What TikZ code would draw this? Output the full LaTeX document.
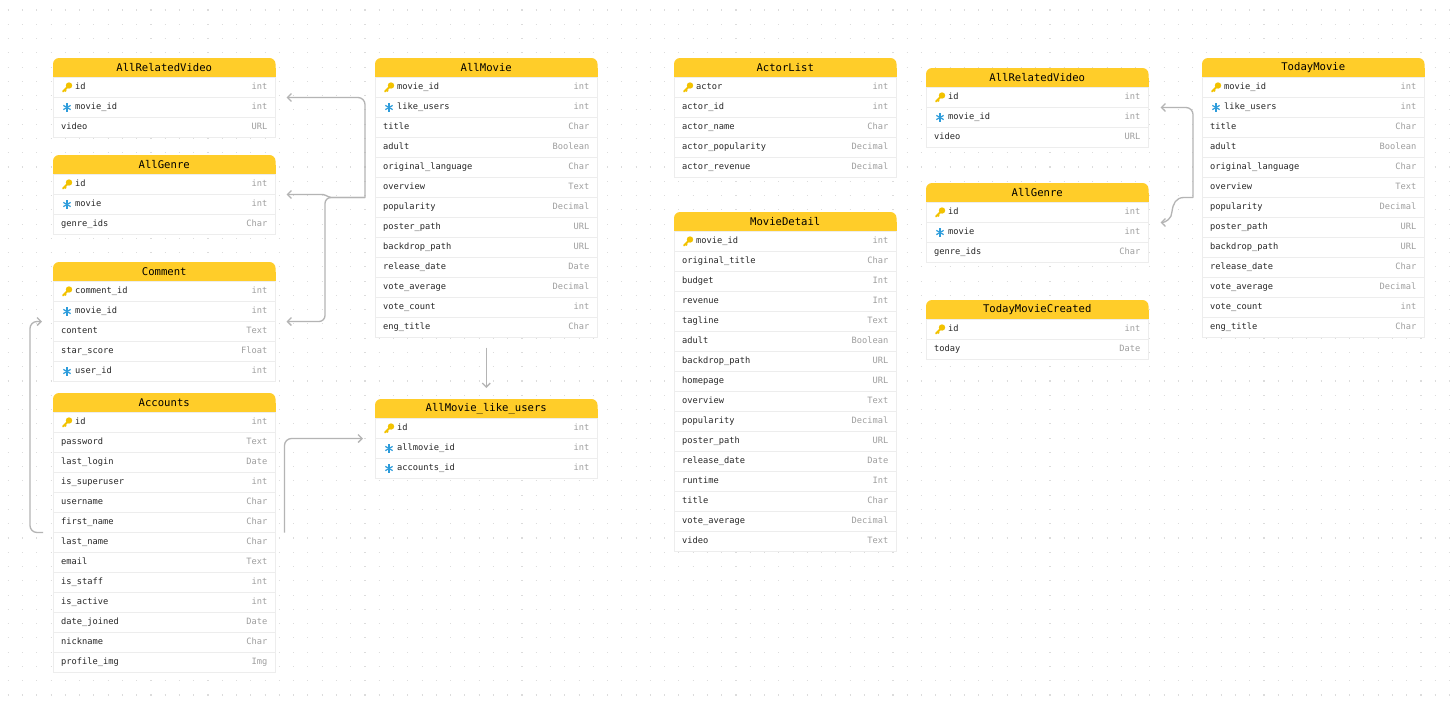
\documentclass[tikz,border=0pt]{standalone}
\usepackage{fontspec}
\usetikzlibrary{positioning, arrows.meta}

\newfontfamily\ermono{DejaVu Sans Mono}

% Colours of the diagram
\definecolor{headyellow}{HTML}{FFCD29}
\definecolor{rowline}{HTML}{EDEDED}
\definecolor{fieldgray}{HTML}{262626}
\definecolor{typegray}{HTML}{9E9E9E}
\definecolor{conngray}{HTML}{B4B4B4}
\definecolor{dotgray}{HTML}{DCDCDC}
\definecolor{keygold}{HTML}{F2C200}
\definecolor{fkblue}{HTML}{2D9CDB}

\tikzset{
  tablehead/.style={fill=headyellow, rounded corners=6pt, minimum width=222.5pt,
    minimum height=19.5pt, inner sep=0pt, outer sep=0pt, anchor=north west,
    font=\ermono\fontsize{10.6}{12}\selectfont, text=black},
  rowbox/.style={draw=rowline, line width=1pt, fill=white, minimum width=222.5pt,
    minimum height=20pt, inner sep=0pt, outer sep=0pt},
  fieldtext/.style={font=\ermono\fontsize{8.7}{10}\selectfont, text=fieldgray,
    inner sep=0pt, text height=6.2pt, text depth=2pt},
  typetext/.style={font=\ermono\fontsize{8.7}{10}\selectfont, text=typegray,
    inner sep=0pt, text height=6.2pt, text depth=2pt},
  conn/.style={draw=conngray, line width=1.3pt, -{Straight Barb[length=4pt,width=8pt]}},
  keyicon/.pic={
    \fill[keygold] (2pt,2pt) circle (3.2pt);
    \draw[keygold, line width=1.9pt, line cap=round] (0.5pt,0.5pt) -- (-4pt,-4pt);
    \draw[keygold, line width=1.6pt] (-2.4pt,-2.4pt) -- (-1pt,-3.8pt);
  },
  fkicon/.pic={
    \draw[fkblue, line width=1.2pt] (0pt,-4.2pt) -- (0pt,4.2pt);
    \draw[fkblue, line width=1.2pt] (-3.64pt,-2.1pt) -- (3.64pt,2.1pt);
    \draw[fkblue, line width=1.2pt] (-3.64pt,2.1pt) -- (3.64pt,-2.1pt);
  }
}

% Table header: name, x, y, title
\newcommand{\ertable}[4]{%
  \fill[headyellow] (#2,#3+10) rectangle ++(222.5,9.5);
  \node[tablehead] (#1) at (#2,#3) {#4};
}
% Plain row: name, row above, field, type
\newcommand{\errow}[4]{%
  \node[rowbox, below=0pt of #2] (#1) {};
  \node[fieldtext, right=8pt of #1.west] (#1-f) {#3};
  \node[typetext, left=8pt of #1.east] (#1-t) {#4};
}
% Row with an icon: name, row above, icon, field, type
\newcommand{\erkey}[5]{%
  \node[rowbox, below=0pt of #2] (#1) {};
  \pic at ([xshift=14pt]#1.west) {#3};
  \node[fieldtext, right=22pt of #1.west] (#1-f) {#4};
  \node[typetext, left=8pt of #1.east] (#1-t) {#5};
}

\begin{document}
\begin{tikzpicture}[x=1pt, y=-1pt]

    % Fix the page and fill the background
    \useasboundingbox (0,0) rectangle (1451,707);
    \fill[white] (0,0) rectangle (1451,707);

    % Dotted grid behind the tables
    \foreach \k in {0,...,48}
      \draw[dotgray, line width=1.1pt, dash pattern=on 1.1pt off 13.17pt]
        (7.7,10+14.27*\k) -- (1451,10+14.27*\k);

    % AllRelatedVideo (left)
    \ertable{arv}{53}{58}{AllRelatedVideo}
    \erkey{arv1}{arv}{keyicon}{id}{int}
    \erkey{arv2}{arv1}{fkicon}{movie\_id}{int}
    \errow{arv3}{arv2}{video}{URL}

    % AllGenre (left)
    \ertable{agn}{53}{155}{AllGenre}
    \erkey{agn1}{agn}{keyicon}{id}{int}
    \erkey{agn2}{agn1}{fkicon}{movie}{int}
    \errow{agn3}{agn2}{genre\_ids}{Char}

    % Comment
    \ertable{com}{53}{262}{Comment}
    \erkey{com1}{com}{keyicon}{comment\_id}{int}
    \erkey{com2}{com1}{fkicon}{movie\_id}{int}
    \errow{com3}{com2}{content}{Text}
    \errow{com4}{com3}{star\_score}{Float}
    \erkey{com5}{com4}{fkicon}{user\_id}{int}

    % Accounts
    \ertable{acc}{53}{393}{Accounts}
    \erkey{acc1}{acc}{keyicon}{id}{int}
    \errow{acc2}{acc1}{password}{Text}
    \errow{acc3}{acc2}{last\_login}{Date}
    \errow{acc4}{acc3}{is\_superuser}{int}
    \errow{acc5}{acc4}{username}{Char}
    \errow{acc6}{acc5}{first\_name}{Char}
    \errow{acc7}{acc6}{last\_name}{Char}
    \errow{acc8}{acc7}{email}{Text}
    \errow{acc9}{acc8}{is\_staff}{int}
    \errow{acc10}{acc9}{is\_active}{int}
    \errow{acc11}{acc10}{date\_joined}{Date}
    \errow{acc12}{acc11}{nickname}{Char}
    \errow{acc13}{acc12}{profile\_img}{Img}

    % AllMovie
    \ertable{amv}{375}{58}{AllMovie}
    \erkey{amv1}{amv}{keyicon}{movie\_id}{int}
    \erkey{amv2}{amv1}{fkicon}{like\_users}{int}
    \errow{amv3}{amv2}{title}{Char}
    \errow{amv4}{amv3}{adult}{Boolean}
    \errow{amv5}{amv4}{original\_language}{Char}
    \errow{amv6}{amv5}{overview}{Text}
    \errow{amv7}{amv6}{popularity}{Decimal}
    \errow{amv8}{amv7}{poster\_path}{URL}
    \errow{amv9}{amv8}{backdrop\_path}{URL}
    \errow{amv10}{amv9}{release\_date}{Date}
    \errow{amv11}{amv10}{vote\_average}{Decimal}
    \errow{amv12}{amv11}{vote\_count}{int}
    \errow{amv13}{amv12}{eng\_title}{Char}

    % AllMovie_like_users
    \ertable{aml}{375}{399}{AllMovie\_like\_users}
    \erkey{aml1}{aml}{keyicon}{id}{int}
    \erkey{aml2}{aml1}{fkicon}{allmovie\_id}{int}
    \erkey{aml3}{aml2}{fkicon}{accounts\_id}{int}

    % ActorList
    \ertable{act}{674}{58}{ActorList}
    \erkey{act1}{act}{keyicon}{actor}{int}
    \errow{act2}{act1}{actor\_id}{int}
    \errow{act3}{act2}{actor\_name}{Char}
    \errow{act4}{act3}{actor\_popularity}{Decimal}
    \errow{act5}{act4}{actor\_revenue}{Decimal}

    % MovieDetail
    \ertable{mdt}{674}{212}{MovieDetail}
    \erkey{mdt1}{mdt}{keyicon}{movie\_id}{int}
    \errow{mdt2}{mdt1}{original\_title}{Char}
    \errow{mdt3}{mdt2}{budget}{Int}
    \errow{mdt4}{mdt3}{revenue}{Int}
    \errow{mdt5}{mdt4}{tagline}{Text}
    \errow{mdt6}{mdt5}{adult}{Boolean}
    \errow{mdt7}{mdt6}{backdrop\_path}{URL}
    \errow{mdt8}{mdt7}{homepage}{URL}
    \errow{mdt9}{mdt8}{overview}{Text}
    \errow{mdt10}{mdt9}{popularity}{Decimal}
    \errow{mdt11}{mdt10}{poster\_path}{URL}
    \errow{mdt12}{mdt11}{release\_date}{Date}
    \errow{mdt13}{mdt12}{runtime}{Int}
    \errow{mdt14}{mdt13}{title}{Char}
    \errow{mdt15}{mdt14}{vote\_average}{Decimal}
    \errow{mdt16}{mdt15}{video}{Text}

    % AllRelatedVideo (right)
    \ertable{rav}{926}{68}{AllRelatedVideo}
    \erkey{rav1}{rav}{keyicon}{id}{int}
    \erkey{rav2}{rav1}{fkicon}{movie\_id}{int}
    \errow{rav3}{rav2}{video}{URL}

    % AllGenre (right)
    \ertable{rgn}{926}{183}{AllGenre}
    \erkey{rgn1}{rgn}{keyicon}{id}{int}
    \erkey{rgn2}{rgn1}{fkicon}{movie}{int}
    \errow{rgn3}{rgn2}{genre\_ids}{Char}

    % TodayMovieCreated
    \ertable{tmc}{926}{300}{TodayMovieCreated}
    \erkey{tmc1}{tmc}{keyicon}{id}{int}
    \errow{tmc2}{tmc1}{today}{Date}

    % TodayMovie
    \ertable{tdm}{1202}{58}{TodayMovie}
    \erkey{tdm1}{tdm}{keyicon}{movie\_id}{int}
    \erkey{tdm2}{tdm1}{fkicon}{like\_users}{int}
    \errow{tdm3}{tdm2}{title}{Char}
    \errow{tdm4}{tdm3}{adult}{Boolean}
    \errow{tdm5}{tdm4}{original\_language}{Char}
    \errow{tdm6}{tdm5}{overview}{Text}
    \errow{tdm7}{tdm6}{popularity}{Decimal}
    \errow{tdm8}{tdm7}{poster\_path}{URL}
    \errow{tdm9}{tdm8}{backdrop\_path}{URL}
    \errow{tdm10}{tdm9}{release\_date}{Char}
    \errow{tdm11}{tdm10}{vote\_average}{Decimal}
    \errow{tdm12}{tdm11}{vote\_count}{int}
    \errow{tdm13}{tdm12}{eng\_title}{Char}

    % Define the end points of the connectors
    \coordinate (hubL) at ([xshift=-10pt]amv6.south west);
    \coordinate (jL) at ([xshift=-40pt]hubL);
    \coordinate (arvtip) at ([xshift=11pt]arv1.south east);
    \coordinate (agntip) at ([xshift=11pt]agn1.south east);
    \coordinate (comtip) at ([xshift=11pt]com2.south east);
    \coordinate (comL) at ([xshift=-11pt]com2.south west);
    \coordinate (accL) at ([xshift=-10pt]acc6.south west);
    \coordinate (accR) at ([xshift=9pt]acc6.south east);
    \coordinate (amlL) at ([xshift=-12pt]aml1.south west);
    \coordinate (amvB) at ([yshift=-10pt]amv13.south);
    \coordinate (amlT) at ([yshift=11pt]aml.north);
    \coordinate (hubR) at ([xshift=-9pt]tdm6.south west);
    \coordinate (ravtip) at ([xshift=12pt]rav1.south east);
    \coordinate (rgntip) at ([xshift=12pt]rgn1.south east);

    % Draw the connectors from AllMovie to the left tables
    \draw[conn, rounded corners=7pt] (hubL) |- (arvtip);
    \draw[conn, rounded corners=2pt] (hubL) -- ++(-36,0) -- ++(-4,-3) -- (agntip);
    \draw[conn, rounded corners=6pt] (hubL) -| (comtip -| jL) -- (comtip);

    % Draw the connectors from Accounts
    \draw[conn, rounded corners=7pt] (accL) -- ++(-13,0) |- (comL);
    \draw[conn, rounded corners=7pt] (accR) |- (amlL);

    % Draw the connector from AllMovie down to AllMovie_like_users
    \draw[conn] (amvB) -- (amlT);

    % Draw the connectors from TodayMovie to the right tables
    \draw[conn, rounded corners=7pt] (hubR) |- (ravtip);
    \draw[conn] (hubR) -- ++(-9,0) .. controls +(-8,0) and +(1,-8) .. ++(-12,14)
      .. controls +(0,7) and +(5,0) .. (rgntip);

\end{tikzpicture}
\end{document}
